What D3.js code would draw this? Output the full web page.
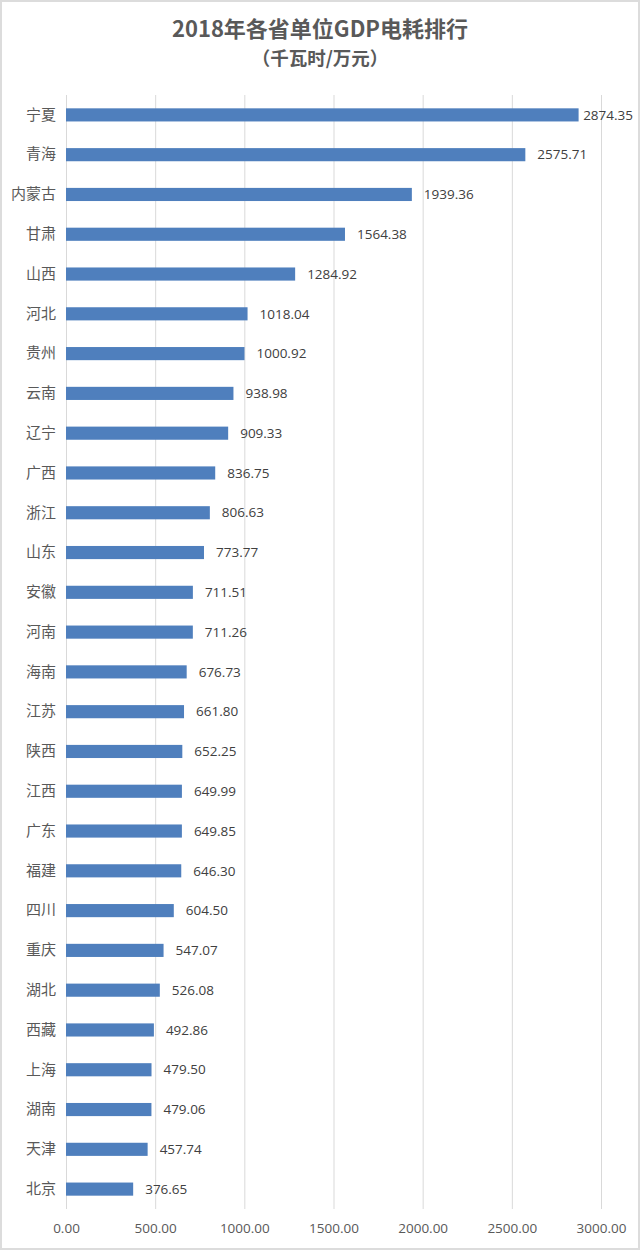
<!DOCTYPE html>
<html><head><meta charset="utf-8">
<script src="https://cdn.jsdelivr.net/npm/d3@7"></script>
<style>body{margin:0;background:#fff}svg{display:block}</style>
</head><body>
<svg id="c" width="640" height="1250"></svg>
<script>
const provinces = ["宁夏","青海","内蒙古","甘肃","山西","河北","贵州","云南","辽宁","广西","浙江","山东","安徽","河南","海南","江苏","陕西","江西","广东","福建","四川","重庆","湖北","西藏","上海","湖南","天津","北京"];
const values = [2874.35,2575.71,1939.36,1564.38,1284.92,1018.04,1000.92,938.98,909.33,836.75,806.63,773.77,711.51,711.26,676.73,661.80,652.25,649.99,649.85,646.30,604.50,547.07,526.08,492.86,479.50,479.06,457.74,376.65];
const ticks = [0,500,1000,1500,2000,2500,3000];
const title = "2018年各省单位GDP电耗排行";
const subtitle = "（千瓦时/万元）";

const svg = d3.select("#c");
const W = 640, H = 1250;
svg.append("rect").attr("x",1).attr("y",1).attr("width",W-2).attr("height",H-2)
  .attr("fill","#fff").attr("stroke","#dcdcdc").attr("stroke-width",2);

const x = d3.scaleLinear().domain([0,3000]).range([66,601]);
const y = d3.scaleBand().domain(provinces).range([95,1209]).paddingInner(0.67).paddingOuter(0.335);

const cjk = "'Noto Sans CJK SC','Noto Sans',sans-serif";
const num = "'Open Sans','Liberation Sans',sans-serif";

svg.append("text").attr("x",320).attr("y",37).attr("text-anchor","middle")
  .attr("font-family",cjk).attr("font-weight","bold").attr("font-size",22).attr("fill","#595959").text(title);
svg.append("text").attr("x",320).attr("y",65).attr("text-anchor","middle")
  .attr("font-family",cjk).attr("font-weight","bold").attr("font-size",18.5).attr("fill","#595959").text(subtitle);

// gridlines
svg.append("g").selectAll("line").data(ticks).join("line")
  .attr("x1",d=>x(d)+0.5).attr("x2",d=>x(d)+0.5).attr("y1",95).attr("y2",1209)
  .attr("stroke","#d9d9d9").attr("stroke-width",1);

// x axis labels
const xa = svg.append("g").attr("transform","translate(0,1209)")
  .call(d3.axisBottom(x).tickValues(ticks).tickFormat(d3.format(".2f")).tickSize(0).tickPadding(14));
xa.select(".domain").remove();
xa.selectAll("text").attr("font-family",num).attr("font-size",13.5).attr("fill","#595959");

// y axis labels
const ya = svg.append("g").attr("transform","translate(66,0)")
  .call(d3.axisLeft(y).tickSize(0).tickPadding(10));
ya.select(".domain").remove();
ya.selectAll("text").attr("font-family",cjk).attr("font-size",15).attr("fill","#595959");

// bars
svg.append("g").selectAll("rect").data(values).join("rect")
  .attr("x",x(0)).attr("y",(d,i)=>y(provinces[i]))
  .attr("width",d=>x(d)-x(0)).attr("height",y.bandwidth())
  .attr("fill","#4f7fbd");

// value labels
svg.append("g").selectAll("text").data(values).join("text")
  .attr("x",d=>x(d)+12).attr("y",(d,i)=>y(provinces[i])+y.bandwidth()/2)
  .attr("dy","0.35em").attr("font-family",num).attr("font-size",13.5).attr("fill","#404040")
  .text(d=>d.toFixed(2))
  .each(function(d){
    const w = this.getComputedTextLength();
    const lim = 633 - w;
    if (x(d)+12 > lim) d3.select(this).attr("x", Math.max(x(d)+2, lim));
  });
</script>
</body></html>
